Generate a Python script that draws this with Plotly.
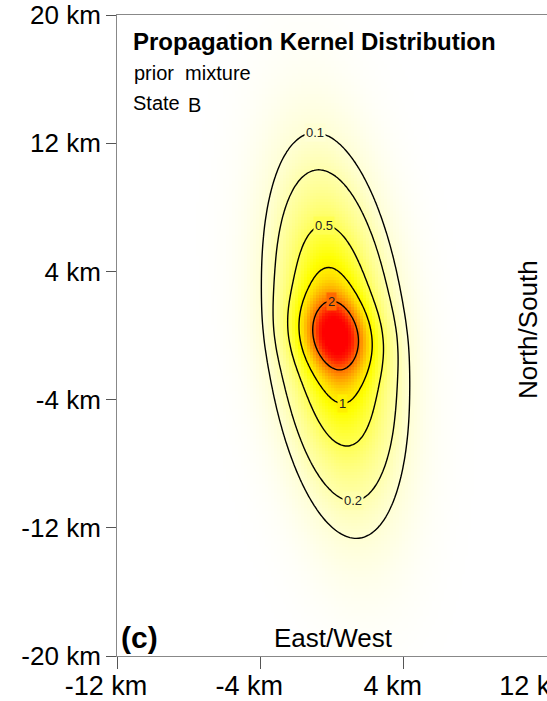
import numpy as np
import plotly.graph_objects as go

# Gaussian mixture components of the propagation kernel (peak heights, km units)
comp_weight = [0.75, 0.90, 1.60]
comp_center_x = [0.2, 0.2, 0.2]
comp_center_y = [0.0, 0.0, 0.0]
comp_sigma_x = [2.05, 1.15, 1.20]
comp_sigma_y = [6.30, 3.20, 1.50]
comp_corr = [-0.28, -0.25, -0.16]

# contour levels and where their labels sit
contour_levels = [0.1, 0.2, 0.5, 1, 2]
label_side = ["top", "bottom", "top", "bottom", "top"]

x_tick_vals = [-12, -4, 4, 12]
x_tick_text = ["-12 km", "-4 km", "4 km", "12 km"]
y_tick_vals = [-20, -12, -4, 4, 12, 20]
y_tick_text = ["-20 km", "-12 km", "-4 km", "4 km", "12 km", "20 km"]

FONT = "Liberation Sans, Arial, sans-serif"


def kernel(xx, yy):
    z = np.zeros_like(xx, dtype=float)
    for w, mx, my, sx, sy, r in zip(comp_weight, comp_center_x, comp_center_y,
                                    comp_sigma_x, comp_sigma_y, comp_corr):
        dx = (xx - mx) / sx
        dy = (yy - my) / sy
        q = (dx * dx - 2 * r * dx * dy + dy * dy) / (1 - r * r)
        z += w * np.exp(-0.5 * q)
    return z


x = np.linspace(-12, 12, 145)
y = np.linspace(-20, 20, 215)
XX, YY = np.meshgrid(x, y)
Z = kernel(XX, YY)
zmax = float(Z.max())

# white -> yellow -> red heat palette, stops given in density units
stop_vals = [0.0, 0.005, 0.02, 0.05, 0.1, 0.2, 0.5, 0.85, 1.2, 2.0, 2.5, 2.8,
             max(zmax, 2.9)]
stop_cols = ["#ffffff", "#fffffb", "#fffff3", "#ffffe6", "#ffffd4", "#ffffac",
             "#ffff52", "#ffff00", "#ffdd00", "#ff6a00", "#ff1a00", "#ff0000", "#ff0000"]
top_val = stop_vals[-1]
colorscale = [[v / top_val, c] for v, c in zip(stop_vals, stop_cols)]


def hex_rgb(h):
    return np.array([int(h[i:i + 2], 16) for i in (1, 3, 5)], dtype=float)


def color_at(v):
    for i in range(len(stop_vals) - 1):
        if stop_vals[i] <= v <= stop_vals[i + 1]:
            t = (v - stop_vals[i]) / (stop_vals[i + 1] - stop_vals[i])
            c = (1 - t) * hex_rgb(stop_cols[i]) + t * hex_rgb(stop_cols[i + 1])
            return "rgb(%d,%d,%d)" % tuple(np.round(c))
    return stop_cols[-1]


fig = go.Figure()
fig.add_trace(go.Heatmap(x=x, y=y, z=Z, zmin=0, zmax=top_val, colorscale=colorscale,
                         showscale=False, hoverinfo="skip"))

for lev in contour_levels:
    fig.add_trace(go.Contour(
        x=x, y=y, z=Z, showscale=False, hoverinfo="skip",
        contours=dict(start=lev, end=lev, size=1, coloring="none", showlabels=False),
        line=dict(color="black", width=1.4)))

# contour labels at the top / bottom apex of each level
xf = np.linspace(-12, 12, 961)
yf = np.linspace(-20, 20, 1601)
XF, YF = np.meshgrid(xf, yf)
ZF = kernel(XF, YF)
for lev, side in zip(contour_levels, label_side):
    rows = np.where((ZF >= lev).any(axis=1))[0]
    idx = rows.max() if side == "top" else rows.min()
    lx = float(xf[ZF[idx] >= lev].mean())
    ly = float(yf[idx])
    fig.add_annotation(x=lx, y=ly, xref="x", yref="y", text=str(lev), showarrow=False,
                       font=dict(family=FONT, size=13, color="#222"),
                       bgcolor=color_at(lev), borderpad=1)

# plot area: 117..547 px horizontally, 15..656 px vertically
def px(xp):
    return (xp - 117) / 430.0


def py(yp):
    return (656 - yp) / 641.0


texts = [
    dict(text="<b>Propagation Kernel Distribution</b>", x=px(131), y=py(42), size=24, xa="left"),
    dict(text="prior  mixture", x=px(132), y=py(73), size=20, xa="left"),
    dict(text="State", x=px(131), y=py(103), size=20, xa="left"),
    dict(text="B", x=px(186), y=py(105), size=20, xa="left"),
    dict(text="<b>(c)</b>", x=px(119), y=py(637), size=30, xa="left"),
    dict(text="East/West", x=px(333), y=py(638), size=26, xa="center"),
]
for t in texts:
    fig.add_annotation(x=t["x"], y=t["y"], xref="paper", yref="paper", text=t["text"],
                       showarrow=False, xanchor=t["xa"], yanchor="middle",
                       font=dict(family=FONT, size=t["size"], color="black"))
fig.add_annotation(x=px(528), y=py(330), xref="paper", yref="paper", text="North/South",
                   showarrow=False, textangle=-90, xanchor="center", yanchor="middle",
                   font=dict(family=FONT, size=26, color="black"))

axis_common = dict(showgrid=False, zeroline=False, showline=True, linecolor="#888",
                   linewidth=1, ticks="outside", tickcolor="#555", tickwidth=1,
                   ticklabeloverflow="allow", automargin=False)
fig.update_xaxes(range=[-12, 12], tickvals=x_tick_vals, ticktext=x_tick_text,
                 ticklen=12, mirror=True, ticklabelshift=-11, ticklabelstandoff=-6,
                 tickfont=dict(family=FONT, size=27, color="black"), **axis_common)
fig.update_yaxes(range=[-20, 20], tickvals=y_tick_vals, ticktext=y_tick_text,
                 ticklen=10, tickfont=dict(family=FONT, size=26, color="black"),
                 **axis_common)

fig.update_layout(width=547, height=701, margin=dict(l=117, r=0, t=15, b=45),
                  paper_bgcolor="white", plot_bgcolor="white", showlegend=False,
                  font=dict(family=FONT))

fig.write_html("out.html")
